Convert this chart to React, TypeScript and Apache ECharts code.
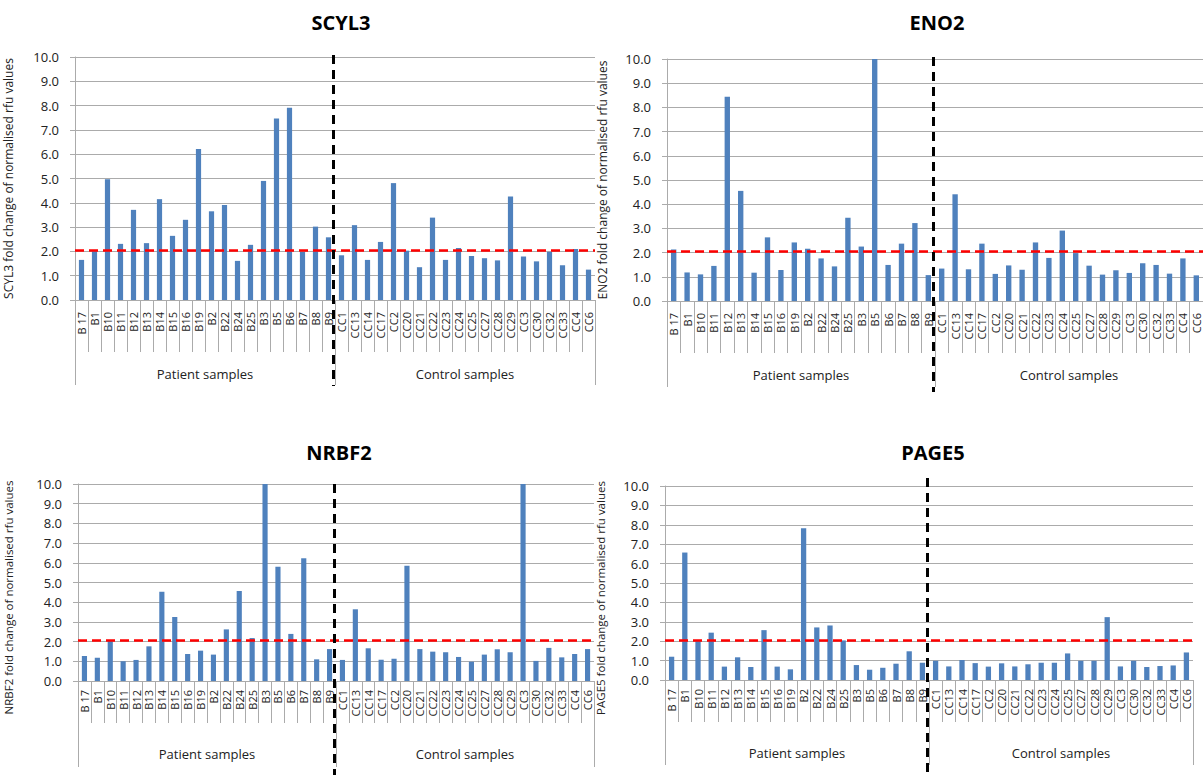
import React, { useEffect, useRef } from "react";
import * as echarts from "echarts";

const patientSamples = ["B 17", "B1", "B10", "B11", "B12", "B13", "B14", "B15", "B16", "B19", "B2", "B22", "B24", "B25", "B3", "B5", "B6", "B7", "B8", "B9"];
const controlSamples = ["CC1", "CC13", "CC14", "CC17", "CC2", "CC20", "CC21", "CC22", "CC23", "CC24", "CC25", "CC27", "CC28", "CC29", "CC3", "CC30", "CC32", "CC33", "CC4", "CC6"];
const categories = [...patientSamples, ...controlSamples];
const groupLabels = ["Patient samples", "Control samples"];
const yTicks = [0, 1, 2, 3, 4, 5, 6, 7, 8, 9, 10];
const threshold = 2.05;

const genes = ["SCYL3", "ENO2", "NRBF2", "PAGE5"];

const scyl3 = [1.65, 2.06, 4.97, 2.31, 3.71, 2.34, 4.15, 2.64, 3.3, 6.21, 3.65, 3.91, 1.61, 2.27, 4.9, 7.47, 7.91, 1.98, 3.02, 2.58,
  1.84, 3.08, 1.65, 2.39, 4.81, 2.03, 1.35, 3.39, 1.65, 2.14, 1.81, 1.72, 1.63, 4.26, 1.79, 1.59, 1.98, 1.43, 2.1, 1.25];
const eno2 = [2.13, 1.18, 1.1, 1.45, 8.44, 4.55, 1.17, 2.63, 1.28, 2.42, 2.16, 1.76, 1.43, 3.44, 2.25, 10.0, 1.49, 2.37, 3.22, 1.07,
  1.34, 4.41, 1.31, 2.37, 1.12, 1.47, 1.29, 2.42, 1.78, 2.91, 1.98, 1.46, 1.09, 1.27, 1.16, 1.56, 1.49, 1.13, 1.76, 1.06];
const nrbf2 = [1.27, 1.18, 2.08, 1.0, 1.07, 1.76, 4.53, 3.25, 1.37, 1.54, 1.34, 2.62, 4.57, 2.18, 10.0, 5.8, 2.39, 6.23, 1.1, 1.62,
  1.07, 3.64, 1.66, 1.08, 1.13, 5.85, 1.62, 1.49, 1.46, 1.22, 0.98, 1.34, 1.61, 1.46, 10.0, 1.02, 1.68, 1.2, 1.37, 1.62];
const page5 = [1.2, 6.57, 2.02, 2.44, 0.69, 1.17, 0.67, 2.57, 0.69, 0.55, 7.82, 2.71, 2.81, 2.04, 0.77, 0.53, 0.63, 0.84, 1.48, 0.89,
  0.99, 0.7, 1.03, 0.87, 0.69, 0.86, 0.7, 0.81, 0.89, 0.89, 1.37, 0.99, 0.99, 3.24, 0.7, 0.99, 0.67, 0.72, 0.75, 1.42];
const seriesValues = [scyl3, eno2, nrbf2, page5];

const FONT = "Open Sans";
const GRID_COLOR = "#ababab";
const TEXT_COLOR = "#222";

const panels = [
  { grid: { left: 75, top: 57, width: 520, height: 243 }, titleX: 336, titleY: 7, tickLen: 52, groupLen: 85, labelMargin: 12, groupMargin: 67, nameGap: 61, namePad: [0, 0, 0, 0], nameSize: 12, dashTop: 55, dashBottom: 386 },
  { grid: { left: 667, top: 59, width: 542, height: 242 }, titleX: 932, titleY: 7, tickLen: 52, groupLen: 86, labelMargin: 12, groupMargin: 67, nameGap: 59, namePad: [0, 0, 0, 0], nameSize: 12, dashTop: 57, dashBottom: 392 },
  { grid: { left: 78, top: 484, width: 516, height: 197 }, titleX: 334, titleY: 437, tickLen: 42, groupLen: 86, labelMargin: 9, groupMargin: 66, nameGap: 64, namePad: [0, 30, 0, 0], nameSize: 11.5, dashTop: 484, dashBottom: 775 },
  { grid: { left: 665, top: 486, width: 528, height: 194 }, titleX: 928, titleY: 437, tickLen: 42, groupLen: 85, labelMargin: 9, groupMargin: 66, nameGap: 59, namePad: [0, 30, 0, 0], nameSize: 11.5, dashTop: 478, dashBottom: 775 },
];

export default function App() {
  const ref = useRef<HTMLDivElement>(null);

  useEffect(() => {
    if (!ref.current) return;
    const chart = echarts.init(ref.current, undefined, { renderer: "svg" });

    const option: any = {
      animation: false,
      backgroundColor: "#ffffff",
      title: panels.map((p, i) => ({
        text: genes[i],
        left: p.titleX,
        top: p.titleY,
        textAlign: "center",
        textStyle: { fontFamily: FONT, fontSize: 20, fontWeight: "bold", color: "#000" },
      })),
      grid: panels.map((p) => ({ ...p.grid, containLabel: false })),
      xAxis: [
        ...panels.map((p, i) => ({
          type: "category",
          gridIndex: i,
          data: categories,
          position: "bottom",
          axisLine: { show: true, lineStyle: { color: GRID_COLOR, width: 1 } },
          axisTick: { show: true, interval: 0, length: p.tickLen, alignWithLabel: false, lineStyle: { color: GRID_COLOR } },
          axisLabel: { interval: 0, rotate: 90, margin: p.labelMargin, fontFamily: FONT, fontSize: 11, color: TEXT_COLOR },
          splitLine: { show: false },
        })),
        ...panels.map((p, i) => ({
          type: "category",
          gridIndex: i,
          data: groupLabels,
          position: "bottom",
          offset: 0,
          axisLine: { show: false },
          axisTick: { show: true, interval: 0, length: p.groupLen, alignWithLabel: false, lineStyle: { color: GRID_COLOR } },
          axisLabel: { interval: 0, margin: p.groupMargin, fontFamily: FONT, fontSize: 13, color: TEXT_COLOR },
          splitLine: { show: false },
        })),
      ],
      yAxis: panels.map((p, i) => ({
        type: "value",
        gridIndex: i,
        min: yTicks[0],
        max: yTicks[yTicks.length - 1],
        interval: 1,
        name: genes[i] + " fold change of normalised rfu values",
        nameLocation: "middle",
        nameRotate: 90,
        nameGap: p.nameGap,
        nameTextStyle: { fontFamily: FONT, fontSize: p.nameSize, color: TEXT_COLOR, padding: p.namePad },
        axisLine: { show: true, lineStyle: { color: GRID_COLOR } },
        axisTick: { show: true, length: 5, lineStyle: { color: GRID_COLOR } },
        axisLabel: { margin: 16, fontFamily: FONT, fontSize: 13, color: TEXT_COLOR, formatter: (v: number) => v.toFixed(1) },
        splitLine: { show: true, lineStyle: { color: GRID_COLOR, width: 1 } },
      })),
      series: seriesValues.map((vals, i) => ({
        type: "bar",
        name: genes[i],
        xAxisIndex: i,
        yAxisIndex: i,
        data: vals,
        barWidth: "40%",
        itemStyle: { color: "#4f81bd" },
        markLine: {
          silent: true,
          symbol: ["none", "none"],
          label: { show: false },
          lineStyle: { color: "#ff0000", type: [9, 5], width: 2.5 },
          data: [{ yAxis: threshold }],
        },
      })),
    };

    chart.setOption(option);

    const graphics = panels.map((p, i) => {
      const a = chart.convertToPixel({ xAxisIndex: i } as any, patientSamples[patientSamples.length - 1]) as number;
      const b = chart.convertToPixel({ xAxisIndex: i } as any, controlSamples[0]) as number;
      const x = (a + b) / 2 - 1.5;
      return {
        type: "line",
        shape: { x1: x, y1: p.dashTop, x2: x, y2: p.dashBottom },
        style: { stroke: "#000", lineWidth: 3, lineDash: [9, 6] },
        z: 100,
      };
    });
    chart.setOption({ graphic: graphics });

    return () => chart.dispose();
  }, []);

  return (
    <div
      ref={ref}
      style={{ position: "absolute", left: 0, top: 0, width: 1203, height: 775, background: "#fff" }}
    />
  );
}
